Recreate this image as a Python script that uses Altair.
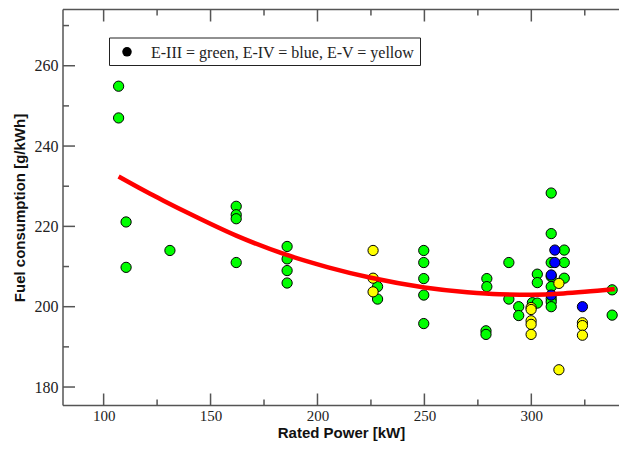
import altair as alt
import pandas as pd

# ---------------- data ----------------
green_x = [107, 107, 110.5, 110.5, 131, 162, 162, 162, 162,
           185.8, 185.8, 185.8, 185.8, 228.1, 228.1,
           249.7, 249.7, 249.7, 249.7, 249.7,
           279.2, 279.2, 278.8, 278.8, 289.5, 289.5, 294.1, 294.1, 300.5,
           302.8, 302.8, 302.8,
           309.3, 309.3, 309.3, 309.3, 309.3, 309.3, 309.3, 309.3,
           315.4, 315.4, 315.4, 337.8, 337.8]
green_y = [254.9, 247.0, 221.1, 209.8, 214.0, 225.0, 222.9, 221.9, 211.0,
           215.0, 211.9, 209.0, 205.9, 205.0, 201.9,
           214.0, 211.0, 207.0, 202.9, 195.8,
           207.0, 205.0, 194.0, 193.1, 211.0, 201.9, 200.0, 197.8, 201.0,
           208.1, 206.0, 200.9,
           228.3, 218.2, 211.0, 207.5, 205.0, 202.0, 201.2, 200.0,
           214.1, 211.0, 207.1, 204.2, 197.9]

yellow_x = [226, 226, 226, 299.9, 299.9, 299.9, 299.9, 299.9,
            312.9, 312.9, 323.9, 323.9, 323.9]
yellow_y = [214.0, 207.1, 203.7, 199.8, 199.3, 196.5, 195.6, 193.1,
            205.8, 184.3, 196.0, 195.3, 192.9]

blue_x = [311, 311, 309.3, 309.3, 323.9]
blue_y = [214.1, 211.0, 207.9, 202.9, 200.0]

fit_x = [107, 120, 128, 140, 162, 185, 205, 225, 250, 270, 285, 300, 315, 325, 339]
fit_y = [232.4, 228.6, 226.4, 223.2, 217.7, 213.0, 209.8, 207.2, 204.8,
         203.6, 203.1, 203.0, 203.3, 203.7, 204.4]

x_major = [100, 150, 200, 250, 300]
x_minor = [125, 175, 225, 275, 325]
y_major = [180, 200, 220, 240, 260]
y_minor = [190, 210, 230, 250, 270]

stages = ["E-III", "E-IV", "E-V"]
stage_colors = ["#00ff00", "#0000ff", "#ffff00"]
legend_label = "E-III = green, E-IV = blue, E-V = yellow"

# ---------------- layout constants ----------------
W, H = 556, 396
X_DOMAIN = [81, 341]
Y_DOMAIN = [175.4, 274]
FRAME = "#555555"
MAJ, MIN = 12, 6

pts = pd.concat([
    pd.DataFrame({"x": green_x, "y": green_y, "stage": "E-III"}),
    pd.DataFrame({"x": yellow_x, "y": yellow_y, "stage": "E-V"}),
    pd.DataFrame({"x": blue_x, "y": blue_y, "stage": "E-IV"}),
], ignore_index=True)
fit = pd.DataFrame({"x": fit_x, "y": fit_y})

x_enc = alt.X("x:Q", scale=alt.Scale(domain=X_DOMAIN, nice=False, zero=False),
              axis=alt.Axis(values=x_major, title="Rated Power [kW]"))
y_enc = alt.Y("y:Q", scale=alt.Scale(domain=Y_DOMAIN, nice=False, zero=False),
              axis=alt.Axis(values=y_major, title="Fuel consumption [g/kWh]"))

points = alt.Chart(pts).mark_point(
    filled=True, size=105, stroke="black", strokeWidth=1, opacity=1
).encode(
    x=x_enc, y=y_enc,
    fill=alt.Fill("stage:N", scale=alt.Scale(domain=stages, range=stage_colors), legend=None),
)

line = alt.Chart(fit).mark_line(color="#ff0000", strokeWidth=4.5, interpolate="monotone").encode(
    x=x_enc, y=y_enc
)

def xticks(vals, L):
    d = pd.DataFrame({"x": vals})
    b = alt.Chart(d).mark_rule(color=FRAME, strokeWidth=1.5)
    return [b.encode(x=x_enc, y=alt.value(H), y2=alt.value(H - L)),
            b.encode(x=x_enc, y=alt.value(0), y2=alt.value(L))]

def yticks(vals, L):
    d = pd.DataFrame({"y": vals})
    b = alt.Chart(d).mark_rule(color=FRAME, strokeWidth=1.5)
    return [b.encode(y=y_enc, x=alt.value(0), x2=alt.value(L))]

one = pd.DataFrame({"k": [0]})
frame_b = alt.Chart(one).mark_rule(color=FRAME, strokeWidth=1.5)
frame = [
    frame_b.encode(x=alt.value(0), x2=alt.value(W + 5), y=alt.value(0)),
    frame_b.encode(x=alt.value(0), x2=alt.value(W + 5), y=alt.value(H)),
    frame_b.encode(x=alt.value(0), y=alt.value(0), y2=alt.value(H)),
]

leg_box = alt.Chart(one).mark_rect(fill="white", stroke="#222222", strokeWidth=1).encode(
    x=alt.value(46.5), x2=alt.value(357.5), y=alt.value(28.5), y2=alt.value(56)
)
leg_dot = alt.Chart(one).mark_point(filled=True, color="black", size=90, opacity=1).encode(
    x=alt.value(64), y=alt.value(42.3)
)
leg_txt = alt.Chart(one).mark_text(
    align="left", baseline="middle", font="Liberation Serif", fontSize=16, color="#222222"
).encode(x=alt.value(88), y=alt.value(43), text=alt.value(legend_label))

layers = (xticks(x_major, MAJ) + xticks(x_minor, MIN) + yticks(y_major, MAJ) + yticks(y_minor, MIN)
          + frame + [points, line, leg_box, leg_dot, leg_txt])

chart = alt.layer(*layers).properties(
    width=W, height=H,
    autosize=alt.AutoSizeParams(type="none"),
    padding={"left": 55, "top": 1.5, "right": 0, "bottom": 39.5},
    background="white",
).configure_view(
    strokeWidth=0
).configure_axis(
    grid=False, ticks=False, domain=False,
    labelFont="Liberation Serif", labelFontSize=16, labelColor="#222222",
    titleFont="Liberation Sans", titleFontSize=15, titleFontWeight="bold", titleColor="#111111",
).configure_axisX(
    labelPadding=3, labelFontSize=15, titlePadding=2
).configure_axisY(
    labelPadding=5, titlePadding=7
)

chart.save("out.html", embed_options={"renderer": "svg", "actions": False})
